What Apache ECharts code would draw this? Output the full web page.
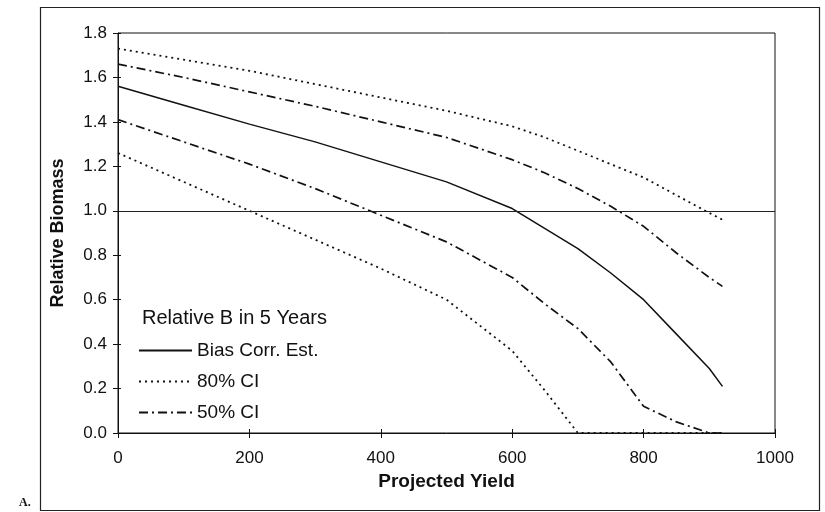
<!DOCTYPE html>
<html>
<head>
<meta charset="utf-8">
<script src="https://cdn.jsdelivr.net/npm/echarts@6/dist/echarts.min.js"></script>
<style>html,body{margin:0;padding:0;background:#fff;}#c{width:825px;height:512px;}</style>
</head>
<body>
<div id="c"></div>
<script>
const yields = [0, 100, 200, 300, 400, 500, 600, 650, 700, 750, 800, 850, 900, 920];
const biasCorrEst = [1.56, 1.475, 1.39, 1.31, 1.22, 1.13, 1.01, 0.92, 0.83, 0.72, 0.60, 0.445, 0.29, 0.21];
const ci80Upper = [1.73, 1.68, 1.63, 1.57, 1.51, 1.45, 1.38, 1.33, 1.27, 1.21, 1.15, 1.07, 0.99, 0.96];
const ci80Lower = [1.26, 1.13, 1.00, 0.87, 0.74, 0.60, 0.37, 0.19, 0.0, 0.0, 0.0, 0.0, 0.0, 0.0];
const ci50Upper = [1.66, 1.60, 1.535, 1.47, 1.40, 1.33, 1.23, 1.17, 1.10, 1.02, 0.93, 0.81, 0.70, 0.66];
const ci50Lower = [1.41, 1.31, 1.21, 1.10, 0.98, 0.86, 0.70, 0.58, 0.47, 0.32, 0.12, 0.05, 0.0, 0.0];
const referenceLevel = 1.0;
const legendNames = ['Bias Corr. Est.', '80% CI', '50% CI'];
const legendTitle = 'Relative B in 5 Years';
const xName = 'Projected Yield';
const yName = 'Relative Biomass';
const panelLabel = 'A.';

const pairs = (vals) => yields.map((x, i) => [x, vals[i]]);
const FONT = '"Liberation Sans", Arial, sans-serif';
const dotted = [2, 4];
const dashDot = [9, 4, 2, 4];
const INK = '#111';

const xBase = {type: 'value', min: 0, max: 1000, interval: 200, splitLine: {show: false}};
const yBase = {type: 'value', min: 0, max: 1.8, interval: 0.2, splitLine: {show: false}};

const chart = echarts.init(document.getElementById('c'), null, {renderer: 'canvas'});
chart.setOption({
  animation: false,
  backgroundColor: '#fff',
  grid: {left: 118, right: 50, top: 33, bottom: 79, show: true, borderColor: INK, borderWidth: 1},
  title: {
    text: legendTitle, left: 142, top: 308, padding: 0,
    textStyle: {fontFamily: FONT, fontSize: 20, fontWeight: 'normal', color: INK}
  },
  legend: {
    data: legendNames, orient: 'vertical', left: 138, top: 341,
    itemWidth: 53, itemHeight: 14, itemGap: 12, padding: 0,
    itemStyle: {opacity: 0},
    textStyle: {fontFamily: FONT, fontSize: 19, color: INK, padding: [0, 0, 0, 0]}
  },
  xAxis: [
    Object.assign({}, xBase, {
      name: xName, nameLocation: 'middle', nameGap: 37,
      nameTextStyle: {fontFamily: FONT, fontSize: 19, fontWeight: 'bold', color: INK},
      axisLine: {show: true, lineStyle: {color: INK, width: 1}},
      axisTick: {show: true, length: 5, lineStyle: {color: INK}},
      axisLabel: {fontFamily: FONT, fontSize: 17, color: INK, margin: 17, formatter: v => String(v)}
    }),
    Object.assign({}, xBase, {
      position: 'bottom', axisLine: {show: false},
      axisTick: {show: true, inside: true, length: 4, lineStyle: {color: INK}},
      axisLabel: {show: false}
    })
  ],
  yAxis: [
    Object.assign({}, yBase, {
      name: yName, nameLocation: 'middle', nameGap: 51, nameRotate: 90,
      nameTextStyle: {fontFamily: FONT, fontSize: 18, fontWeight: 'bold', color: INK},
      axisLine: {show: true, lineStyle: {color: INK, width: 1}},
      axisTick: {show: true, length: 5, lineStyle: {color: INK}},
      axisLabel: {fontFamily: FONT, fontSize: 17, color: INK, margin: 11, formatter: v => v.toFixed(1)}
    }),
    Object.assign({}, yBase, {
      position: 'left', axisLine: {show: false},
      axisTick: {show: true, inside: true, length: 3, lineStyle: {color: INK}},
      axisLabel: {show: false}
    })
  ],
  series: [
    {name: legendNames[0], type: 'line', data: pairs(biasCorrEst), symbol: 'none',
     lineStyle: {color: INK, width: 1.5, type: 'solid'}, itemStyle: {color: INK},
     markLine: {silent: true, symbol: 'none', label: {show: false},
       lineStyle: {color: '#222', width: 1.2, type: 'solid'}, data: [{yAxis: referenceLevel}]}},
    {name: legendNames[1], type: 'line', data: pairs(ci80Upper), symbol: 'none',
     lineStyle: {color: INK, width: 1.8, type: dotted}, itemStyle: {color: INK}},
    {name: legendNames[1], type: 'line', data: pairs(ci80Lower), symbol: 'none',
     lineStyle: {color: INK, width: 1.8, type: dotted}, itemStyle: {color: INK}},
    {name: legendNames[2], type: 'line', data: pairs(ci50Upper), symbol: 'none',
     lineStyle: {color: INK, width: 1.7, type: dashDot}, itemStyle: {color: INK}},
    {name: legendNames[2], type: 'line', data: pairs(ci50Lower), symbol: 'none',
     lineStyle: {color: INK, width: 1.7, type: dashDot}, itemStyle: {color: INK}}
  ],
  graphic: [
    {type: 'rect', left: 38, top: 5, shape: {width: 779, height: 503}, style: {fill: 'none', stroke: '#222', lineWidth: 1.2}, silent: true},
    {type: 'text', left: 19, top: 497, style: {text: panelLabel, font: 'bold 12px "Liberation Serif", serif', fill: INK}}
  ]
});
</script>
</body>
</html>
